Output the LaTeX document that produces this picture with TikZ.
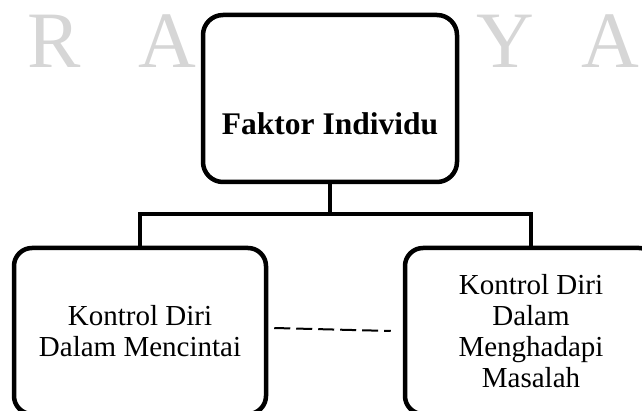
\documentclass[tikz,border=0pt]{standalone}
\usepackage{fontspec}
\setmainfont{Liberation Serif}

\tikzset{
  box/.style={draw, line width=4.5pt, rounded corners=18pt, fill=white, inner sep=0pt, align=center},
  link/.style={line width=4pt},
  dashline/.style={line width=2pt, dash pattern=on 16pt off 6pt},
  watermark/.style={text=black!16, anchor=base, font=\fontsize{80}{80}\selectfont}
}

\begin{document}
\begin{tikzpicture}[x=1pt,y=-1pt]
  % ukuran halaman
  \path[use as bounding box, clip] (0,0) rectangle (642,411);

  % huruf latar (samar)
  \foreach \ch/\px [count=\i] in {R/54, A/167, B/276, A/388, Y/505, A/610}
    \node[watermark] (latar\i) at (\px,68) {\ch};

  % kotak utama
  \node[box, minimum width=254pt, minimum height=167pt, rounded corners=20pt] (individu) at (330,98.5) {};
  \node[font=\bfseries\fontsize{31.5}{34}\selectfont] (judul) at (330,124) {Faktor Individu};

  % kotak bawah
  \node[box, minimum width=252pt, minimum height=166pt, font=\fontsize{29}{31}\selectfont] (mencintai) at (140,331)
    {Kontrol Diri\\Dalam Mencintai};
  \node[box, minimum width=252pt, minimum height=166pt, font=\fontsize{29}{31}\selectfont] (masalah) at (531,331)
    {Kontrol Diri\\Dalam\\Menghadapi\\Masalah};

  % garis penghubung
  \coordinate (cabang) at (330,214);
  \draw[link] (individu.south) -- (cabang);
  \draw[link] (mencintai.north) |- (cabang) -| (masalah.north);

  % garis putus-putus
  \draw[dashline] ([xshift=6pt,yshift=3pt]mencintai.east) -- ([xshift=-12pt]masalah.west);
\end{tikzpicture}
\end{document}
